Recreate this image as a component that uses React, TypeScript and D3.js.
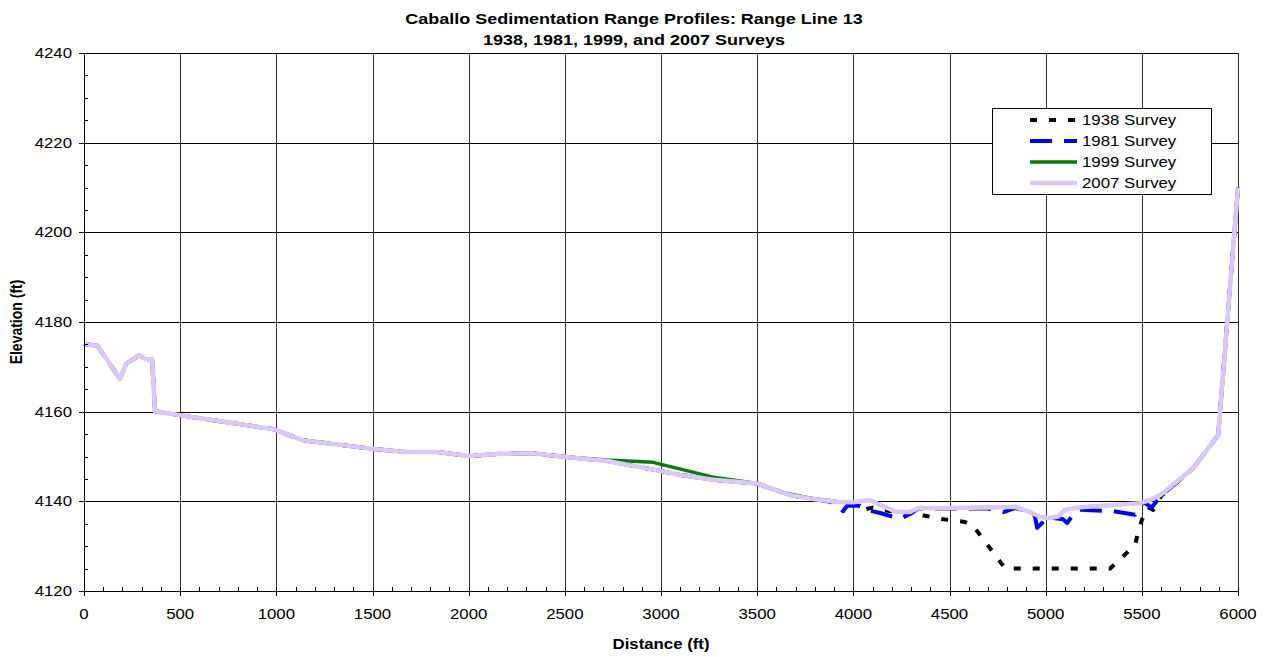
import React from "react";
import * as d3 from "d3";

// Range Line 13 cross-section surveys: distance (ft) and elevation (ft)
const dist2007 = [0, 70, 187, 218, 286, 322, 354, 369, 500, 985, 1140, 1503, 1669, 1836, 2002, 2163, 2335, 2506, 2720, 2995, 3099, 3271, 3500, 3671, 3791, 3931, 4000, 4087, 4139, 4227, 4295, 4337, 4503, 4700, 4840, 4919, 4971, 5023, 5065, 5101, 5179, 5300, 5491, 5543, 5596, 5767, 5897, 6000];
const elev2007 = [4175.1, 4174.7, 4167.3, 4170.6, 4172.6, 4171.7, 4171.7, 4160.1, 4159.2, 4156.1, 4153.6, 4151.7, 4151.0, 4151.0, 4150.1, 4150.6, 4150.7, 4149.9, 4149.0, 4146.8, 4145.9, 4144.8, 4144.0, 4141.4, 4140.5, 4139.8, 4139.8, 4140.3, 4139.2, 4137.6, 4137.6, 4138.5, 4138.5, 4138.6, 4138.8, 4137.6, 4136.5, 4136.3, 4136.6, 4138.1, 4138.7, 4139.0, 4139.6, 4140.3, 4141.4, 4147.4, 4154.8, 4210.0];

const dist1999 = [0, 70, 187, 218, 286, 322, 354, 369, 500, 985, 1140, 1503, 1669, 1836, 2002, 2163, 2335, 2506, 2720, 2959, 3271, 3447, 3500, 3619, 3791, 3880, 3931, 4000, 4087, 4139, 4227, 4295, 4337, 4503, 4700, 4840, 4919, 4971, 5023, 5065, 5101, 5179, 5300, 5491, 5543, 5596, 5767, 5897, 6000];
const elev1999 = [4175.1, 4174.7, 4167.3, 4170.6, 4172.6, 4171.7, 4171.7, 4160.1, 4159.2, 4156.1, 4153.6, 4151.7, 4151.0, 4151.0, 4150.1, 4150.6, 4150.7, 4149.9, 4149.2, 4148.7, 4145.4, 4144.3, 4143.9, 4142.1, 4140.6, 4140.2, 4139.8, 4139.8, 4140.3, 4139.2, 4137.6, 4137.6, 4138.5, 4138.5, 4138.6, 4138.8, 4137.6, 4136.5, 4136.3, 4136.6, 4138.1, 4138.7, 4139.0, 4139.6, 4140.3, 4141.4, 4147.4, 4154.8, 4210.0];

const dist1981 = [0, 70, 187, 218, 286, 322, 354, 369, 500, 985, 1140, 1503, 1669, 1836, 2002, 2163, 2335, 2506, 2720, 2995, 3099, 3271, 3500, 3671, 3791, 3880, 3947, 3967, 4035, 4067, 4139, 4243, 4305, 4337, 4503, 4700, 4780, 4840, 4930, 4945, 4956, 4982, 5000, 5040, 5090, 5112, 5153, 5179, 5351, 5465, 5510, 5550, 5600, 5767, 5897, 6000];
const elev1981 = [4175.1, 4174.7, 4167.3, 4170.6, 4172.6, 4171.7, 4171.7, 4160.1, 4159.2, 4156.1, 4153.6, 4151.7, 4151.0, 4151.0, 4150.1, 4150.6, 4150.7, 4149.9, 4149.0, 4146.8, 4145.9, 4144.8, 4144.0, 4141.4, 4140.5, 4139.9, 4137.8, 4139.0, 4139.0, 4138.1, 4137.4, 4136.1, 4137.4, 4138.4, 4138.4, 4138.4, 4137.6, 4138.5, 4137.6, 4136.5, 4134.1, 4135.2, 4136.3, 4136.3, 4136.0, 4135.2, 4137.6, 4138.1, 4137.8, 4137.0, 4139.8, 4138.6, 4141.2, 4147.4, 4154.8, 4210.0];

const dist1938 = [0, 70, 187, 218, 286, 322, 354, 369, 500, 985, 1140, 1503, 1669, 1836, 2002, 2163, 2335, 2506, 2720, 2995, 3099, 3271, 3500, 3671, 3791, 3931, 4000, 4060, 4100, 4150, 4227, 4350, 4450, 4580, 4620, 4790, 5335, 5400, 5465, 5480, 5500, 5530, 5560, 5600, 5767, 5897, 6000];
const elev1938 = [4175.1, 4174.7, 4167.3, 4170.6, 4172.6, 4171.7, 4171.7, 4160.1, 4159.2, 4156.1, 4153.6, 4151.7, 4151.0, 4151.0, 4150.1, 4150.6, 4150.7, 4149.9, 4149.0, 4146.8, 4145.9, 4144.8, 4144.0, 4141.4, 4140.5, 4139.8, 4139.6, 4138.2, 4138.6, 4138.1, 4137.6, 4137.0, 4136.1, 4135.4, 4134.7, 4125.0, 4125.0, 4127.6, 4130.3, 4133.0, 4135.8, 4138.7, 4138.1, 4141.2, 4147.4, 4154.8, 4210.0];

const xTicks = [0, 500, 1000, 1500, 2000, 2500, 3000, 3500, 4000, 4500, 5000, 5500, 6000];
const yTicks = [4120, 4140, 4160, 4180, 4200, 4220, 4240];

const titleLines = ["Caballo Sedimentation Range Profiles: Range Line 13", "1938, 1981, 1999, and 2007 Surveys"];

const series = [
  { name: "1938 Survey", dist: dist1938, elev: elev1938, color: "#000000", width: 4, dash: "7,12" },
  { name: "1981 Survey", dist: dist1981, elev: elev1981, color: "#0000ff", width: 4, dash: "22,12" },
  { name: "1999 Survey", dist: dist1999, elev: elev1999, color: "#008000", width: 3.5, dash: null },
  { name: "2007 Survey", dist: dist2007, elev: elev2007, color: "#dcc8f8", width: 4.5, dash: null },
];

const W = 1269;
const H = 657;
const left = 84, right = 1238, top = 53, bottom = 591;
const FONT = "Arial, 'Liberation Sans', sans-serif";
const SX = 1.2;

function Label(props: { x: number; y: number; anchor?: string; size: number; bold?: boolean; rotate?: number; children: React.ReactNode }) {
  const { x, y, anchor = "start", size, bold, rotate = 0, children } = props;
  return (
    <text
      transform={`translate(${x},${y}) scale(${SX},1)${rotate ? ` rotate(${rotate})` : ""}`}
      textAnchor={anchor as any}
      fontSize={size}
      fontWeight={bold ? "bold" : "normal"}
      fontFamily={FONT}
      fill="#000"
    >
      {children}
    </text>
  );
}

export default function App() {
  const x = d3.scaleLinear().domain([0, 6000]).range([left, right]);
  const y = d3.scaleLinear().domain([4120, 4240]).range([bottom, top]);

  const xMinor = d3.range(0, 6001, 100);
  const yMinor = d3.range(4120, 4241, 5);

  const line = (dist: number[], elev: number[]) =>
    d3.line<number>().x((_, i) => x(dist[i])).y((_, i) => y(elev[i]))(dist.map((_, i) => i)) || "";

  const legendX = 992, legendY = 108, legendW = 219, legendH = 86;
  const rowY = [120, 141, 162, 183];

  return (
    <svg width={W} height={H} style={{ position: "absolute", left: 0, top: 0, background: "#fff" }}>
      <rect x={0} y={0} width={W} height={H} fill="#fff" />
      {titleLines.map((t, i) => (
        <Label key={t} x={634} y={24 + i * 21} anchor="middle" size={15} bold>
          {t}
        </Label>
      ))}

      {/* grid */}
      <g shapeRendering="crispEdges">
        {yTicks.map((v) => (
          <line key={"gy" + v} x1={left} x2={right} y1={Math.round(y(v))} y2={Math.round(y(v))} stroke="#000" strokeWidth={1} />
        ))}
        {xTicks.map((v) => (
          <line key={"gx" + v} x1={Math.round(x(v))} x2={Math.round(x(v))} y1={top} y2={bottom} stroke="#333" strokeWidth={1} />
        ))}
      </g>

      {/* survey profiles */}
      {series.map((s) => (
        <path
          key={s.name}
          d={line(s.dist, s.elev)}
          fill="none"
          stroke={s.color}
          strokeWidth={s.width}
          strokeDasharray={s.dash || undefined}
          strokeLinejoin="round"
        />
      ))}

      {/* axes */}
      <g shapeRendering="crispEdges" stroke="#000" strokeWidth={1}>
        <line x1={left} x2={left} y1={top} y2={bottom} />
        <line x1={left} x2={right} y1={bottom} y2={bottom} />
        {yMinor.map((v) => (
          <line key={"ym" + v} x1={left} x2={left + 4} y1={Math.round(y(v))} y2={Math.round(y(v))} />
        ))}
        {yTicks.map((v) => (
          <line key={"yM" + v} x1={left - 5} x2={left} y1={Math.round(y(v))} y2={Math.round(y(v))} />
        ))}
        {xMinor.map((v) => (
          <line key={"xm" + v} x1={Math.round(x(v))} x2={Math.round(x(v))} y1={bottom - 4} y2={bottom} />
        ))}
        {xTicks.map((v) => (
          <line key={"xM" + v} x1={Math.round(x(v))} x2={Math.round(x(v))} y1={bottom} y2={bottom + 5} />
        ))}
      </g>

      {yTicks.map((v) => (
        <Label key={"yl" + v} x={72} y={y(v) + 5} anchor="end" size={14}>
          {v}
        </Label>
      ))}
      {xTicks.map((v) => (
        <Label key={"xl" + v} x={x(v)} y={619} anchor="middle" size={14}>
          {v}
        </Label>
      ))}

      <Label x={(left + right) / 2} y={649} anchor="middle" size={14} bold>
        Distance (ft)
      </Label>
      <Label x={22} y={(top + bottom) / 2} anchor="middle" size={14} bold rotate={-90}>
        Elevation (ft)
      </Label>

      {/* legend */}
      <rect x={legendX + 0.5} y={legendY + 0.5} width={legendW} height={legendH} fill="#fff" stroke="#000" strokeWidth={1} />
      {series.map((s, i) => (
        <g key={"lg" + s.name}>
          <line x1={1030} x2={1077} y1={rowY[i]} y2={rowY[i]} stroke={s.color} strokeWidth={s.width} strokeDasharray={s.dash || undefined} />
          <Label x={1082} y={rowY[i] + 5} size={14}>
            {s.name}
          </Label>
        </g>
      ))}
    </svg>
  );
}
